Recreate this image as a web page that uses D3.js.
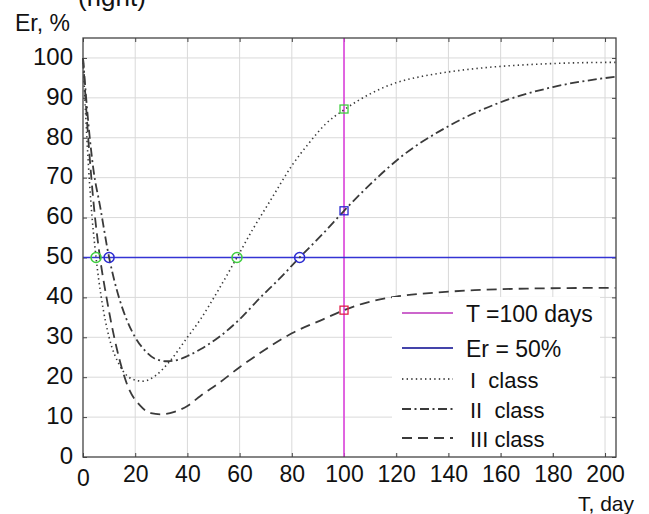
<!DOCTYPE html>
<html>
<head>
<meta charset="utf-8">
<script src="https://cdn.jsdelivr.net/npm/d3@7"></script>
<style>
body{margin:0;background:#fff}
svg{display:block;font-family:"Liberation Sans",Arial,sans-serif}
</style>
</head>
<body>
<svg id="chart" width="649" height="514"></svg>
<script>
// values (days, Er %)
var classIDays = [0, 1, 2, 3, 5, 7, 10, 14, 19, 23, 28, 33, 40, 45, 52, 59, 65, 72, 80, 87, 93, 100, 110, 120, 130, 140, 150, 160, 170, 180, 190, 204];
var classIVals = [100, 86, 74, 64, 50, 40, 30, 23, 19.5, 19, 20.5, 23.8, 30, 34.5, 42, 50, 57, 64.5, 73, 79, 83.5, 87, 91, 93.8, 95.4, 96.5, 97.3, 97.9, 98.3, 98.6, 98.8, 98.9];

var classIIDays = [0, 2, 4, 6.5, 10, 14, 17, 20, 24, 28, 32, 36, 40, 45, 52, 60, 68, 75, 83, 92, 100, 110, 122, 140, 160, 180, 204];
var classIIVals = [100, 84, 72, 63, 50, 39.5, 34, 30, 26.5, 24.5, 24, 24.3, 25.3, 27, 30, 34.5, 40, 44.5, 50, 56, 61.7, 68.3, 75.3, 82.9, 88.9, 92.7, 95.3];

var classIIIDays = [0, 2, 4, 6.5, 9, 13, 17, 22, 26, 30, 35, 40, 45, 52, 60, 70, 80, 92, 100, 107, 120, 135, 150, 170, 204];
var classIIIVals = [100, 80, 64, 50, 40, 27, 18, 12.8, 11, 10.7, 11.3, 12.8, 15.3, 18.5, 22.5, 27, 31, 34.5, 36.8, 38.4, 40.2, 41.2, 41.8, 42.2, 42.4];

var tLine = 100;   // T = 100 days
var erLine = 50;   // Er = 50 %

var circleDays = [5, 10, 59, 83];
var circleVals = [50, 50, 50, 50];
var circleColors = ["#3fce3f", "#2a2ad0", "#3fce3f", "#2a2ad0"];

var squareDays = [100, 100, 100];
var squareVals = [87.2, 61.7, 36.8];
var squareColors = ["#3fce3f", "#2a2ad0", "#e0204a"];

var xTicks = [0, 20, 40, 60, 80, 100, 120, 140, 160, 180, 200];
var yTicks = [0, 10, 20, 30, 40, 50, 60, 70, 80, 90, 100];

var legendLabels = ["T =100 days", "Er = 50%", "I  class", "II  class", "III class"];

const svg = d3.select("#chart");
const pLeft = 83, pRight = 616, pTop = 38, pBottom = 457;

const x = d3.scaleLinear().domain([0, 204.2]).range([pLeft, pRight]);
const y = d3.scaleLinear().domain([0, 105]).range([pBottom, pTop]);

// caption sliver at very top (cut off in the original too)
svg.append("text")
	.attr("x", 78).attr("y", 6)
	.style("font-size", "26px")
	.attr("fill", "#111")
	.text("(right)");

// grid
svg.append("g").selectAll("line").data(xTicks.filter(d => d > 0)).join("line")
	.attr("x1", d => x(d)).attr("x2", d => x(d))
	.attr("y1", pTop).attr("y2", pBottom)
	.attr("stroke", "#d9d9d9").attr("stroke-width", 1);
svg.append("g").selectAll("line").data(yTicks.filter(d => d > 0)).join("line")
	.attr("x1", pLeft).attr("x2", pRight)
	.attr("y1", d => y(d)).attr("y2", d => y(d))
	.attr("stroke", "#d9d9d9").attr("stroke-width", 1);

// axes (ticks pointing inward)
const gx = svg.append("g")
	.attr("transform", `translate(0,${pBottom})`)
	.call(d3.axisBottom(x).tickValues(xTicks).tickSizeInner(-4).tickSizeOuter(0).tickPadding(9));
const gy = svg.append("g")
	.attr("transform", `translate(${pLeft},0)`)
	.call(d3.axisLeft(y).tickValues(yTicks).tickSizeInner(-4).tickSizeOuter(0).tickPadding(10));
svg.append("g")
	.attr("transform", `translate(0,${pTop})`)
	.call(d3.axisTop(x).tickValues(xTicks).tickSizeInner(-4).tickSizeOuter(0).tickFormat(""));
svg.append("g")
	.attr("transform", `translate(${pRight},0)`)
	.call(d3.axisRight(y).tickValues(yTicks).tickSizeInner(-4).tickSizeOuter(0).tickFormat(""));

svg.selectAll(".domain").remove();
svg.selectAll(".tick line").attr("stroke", "#444");
gx.selectAll("text").style("font-size", "23px").attr("fill", "#111");
gx.selectAll(".tick").filter(d => d === 0).select("text").attr("dy", "0.85em");
gy.selectAll("text").style("font-size", "24px").attr("fill", "#111").attr("dy", "0.26em");

// reference lines
svg.append("line")
	.attr("x1", x(tLine)).attr("x2", x(tLine))
	.attr("y1", pTop).attr("y2", pBottom)
	.attr("stroke", "#dd44dd").attr("stroke-width", 1.6);
svg.append("line")
	.attr("x1", pLeft).attr("x2", pRight)
	.attr("y1", y(erLine)).attr("y2", y(erLine))
	.attr("stroke", "#3434d4").attr("stroke-width", 1.6);

// curves
const line = d3.line().x(d => x(d[0])).y(d => y(d[1])).curve(d3.curveMonotoneX);
const series = [
	{days: classIDays, vals: classIVals, dash: "1.4,3.2", w: 1.6},
	{days: classIIDays, vals: classIIVals, dash: "9,3.5,2,3.5", w: 1.8},
	{days: classIIIDays, vals: classIIIVals, dash: "10,6", w: 1.8}
];
series.forEach(function(s) {
	svg.append("path")
		.datum(s.days.map((d, i) => [d, s.vals[i]]))
		.attr("d", line)
		.attr("fill", "none")
		.attr("stroke", "#3a3a3a")
		.attr("stroke-width", s.w)
		.attr("stroke-dasharray", s.dash);
});

// markers
svg.append("g").selectAll("circle").data(circleDays).join("circle")
	.attr("cx", d => x(d))
	.attr("cy", (d, i) => y(circleVals[i]))
	.attr("r", 5)
	.attr("fill", "none")
	.attr("stroke", (d, i) => circleColors[i])
	.attr("stroke-width", 1.5);
svg.append("g").selectAll("rect").data(squareDays).join("rect")
	.attr("x", d => x(d) - 4)
	.attr("y", (d, i) => y(squareVals[i]) - 4)
	.attr("width", 8).attr("height", 8)
	.attr("fill", "none")
	.attr("stroke", (d, i) => squareColors[i])
	.attr("stroke-width", 1.3);

// frame
svg.append("rect")
	.attr("x", pLeft).attr("y", pTop)
	.attr("width", pRight - pLeft).attr("height", pBottom - pTop)
	.attr("fill", "none").attr("stroke", "#444").attr("stroke-width", 1.3);

// legend
const leg = svg.append("g");
leg.append("rect")
	.attr("x", 392).attr("y", 297).attr("width", 208).attr("height", 156)
	.attr("fill", "#fff");
const legY = [322, 357, 388, 418, 447];
const legStroke = ["#cc66cc", "#4444aa", "#555", "#3a3a3a", "#3a3a3a"];
const legDash = [null, null, "1.4,3.2", "9,3.5,2,3.5", "10,6"];
const legTextX = [466, 466, 470, 470, 470];
legendLabels.forEach(function(lab, i) {
	leg.append("line")
		.attr("x1", 402).attr("x2", 453)
		.attr("y1", legY[i] - 9).attr("y2", legY[i] - 9)
		.attr("stroke", legStroke[i])
		.attr("stroke-width", 1.8)
		.attr("stroke-dasharray", legDash[i]);
	leg.append("text")
		.attr("x", legTextX[i]).attr("y", legY[i])
		.style("font-size", i < 2 ? "23px" : "22px")
		.style("white-space", "pre")
		.attr("fill", "#111")
		.text(lab);
});

// axis titles
svg.append("text").attr("x", 15).attr("y", 31)
	.style("font-size", "23px").attr("fill", "#111").text("Er, %");
svg.append("text").attr("x", 578).attr("y", 511)
	.style("font-size", "21px").attr("fill", "#111").text("T, day");
</script>
</body>
</html>
